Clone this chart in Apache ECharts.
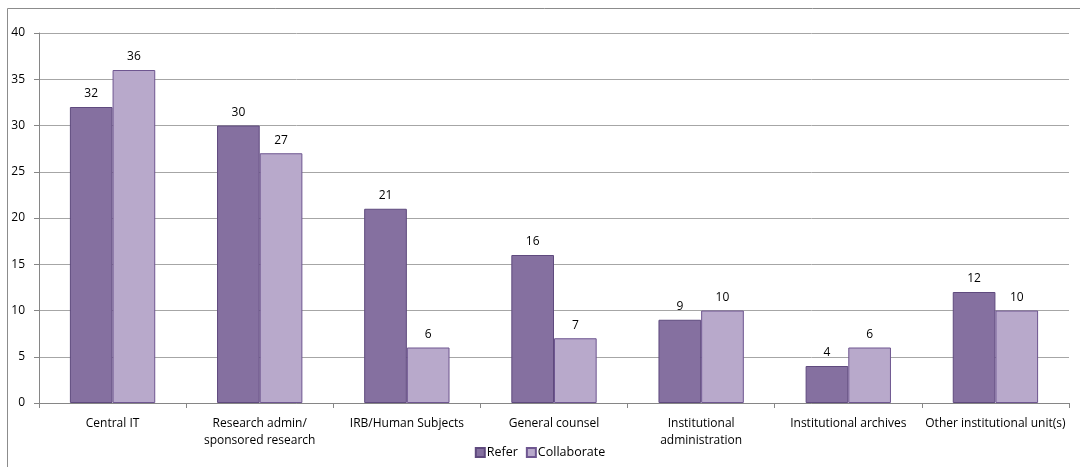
<!DOCTYPE html>
<html>
<head>
<meta charset="utf-8">
<script src="https://cdn.jsdelivr.net/npm/echarts@6/dist/echarts.min.js"></script>
<style>
  html, body { margin: 0; padding: 0; background: #fff; }
  #chart { width: 1080px; height: 467px; }
</style>
</head>
<body>
<div id="chart"></div>
<script>
// Units that campus offices refer to or collaborate with
const categories = [
  'Central IT',
  'Research admin/\nsponsored research',
  'IRB/Human Subjects',
  'General counsel',
  'Institutional\nadministration',
  'Institutional archives',
  'Other institutional unit(s)'
];
const referValues = [32, 30, 21, 16, 9, 4, 12];
const collaborateValues = [36, 27, 6, 7, 10, 6, 10];
const yTicks = [0, 5, 10, 15, 20, 25, 30, 35, 40];

const FONT = '"Open Sans", "DejaVu Sans", sans-serif';
const chart = echarts.init(document.getElementById('chart'));

const labelStyle = {
  show: true,
  position: 'top',
  distance: 7,
  color: '#000',
  fontSize: 12,
  fontFamily: FONT
};

chart.setOption({
  animation: false,
  graphic: [{
    type: 'rect',
    shape: { x: 7.5, y: 8.5, width: 1200, height: 600 },
    style: { fill: 'none', stroke: '#8c8c8c', lineWidth: 1 },
    silent: true
  }],
  grid: { left: 39, right: 11, top: 33, bottom: 64 },
  legend: {
    bottom: 3,
    left: 'center',
    itemWidth: 9,
    itemHeight: 9,
    itemGap: 8,
    icon: 'rect',
    textStyle: { color: '#000', fontSize: 12.5, fontFamily: FONT, padding: [0, 0, 0, -3] },
    data: ['Refer', 'Collaborate']
  },
  xAxis: {
    type: 'category',
    data: categories,
    axisLine: { lineStyle: { color: '#868686' } },
    axisTick: { show: true, length: 5, alignWithLabel: false, lineStyle: { color: '#868686' } },
    axisLabel: {
      interval: 0,
      color: '#000',
      fontSize: 12,
      fontFamily: FONT,
      margin: 12,
      lineHeight: 17
    }
  },
  yAxis: {
    type: 'value',
    min: yTicks[0],
    max: yTicks[yTicks.length - 1],
    interval: 5,
    axisLine: { show: true, lineStyle: { color: '#868686' } },
    axisTick: { show: true, length: 5, lineStyle: { color: '#868686' } },
    splitLine: { lineStyle: { color: '#a6a6a6' } },
    axisLabel: { color: '#000', fontSize: 12, fontFamily: FONT, margin: 14 }
  },
  series: [
    {
      name: 'Refer',
      type: 'bar',
      data: referValues,
      barGap: '0%',
      barCategoryGap: '42%',
      itemStyle: { color: '#8570a0', borderColor: '#5f4a7e', borderWidth: 1 },
      label: labelStyle
    },
    {
      name: 'Collaborate',
      type: 'bar',
      data: collaborateValues,
      itemStyle: { color: '#b8a9cb', borderColor: '#6e5690', borderWidth: 1 },
      label: labelStyle
    }
  ]
});
</script>
</body>
</html>
